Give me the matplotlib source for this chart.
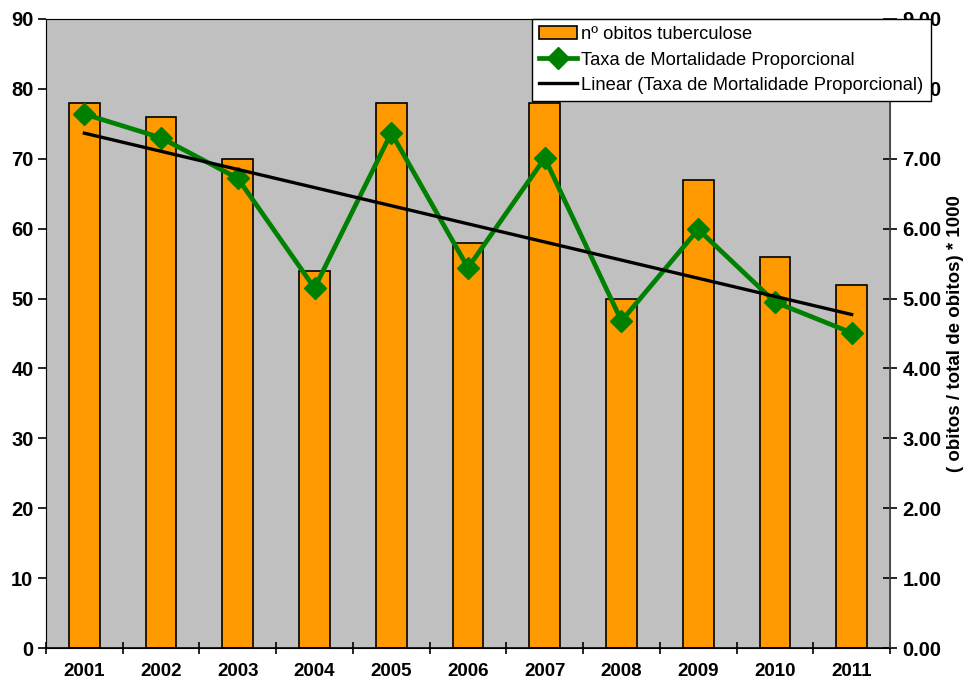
import numpy as np
import matplotlib.pyplot as plt

plt.rcParams['font.family'] = ['Liberation Sans', 'DejaVu Sans']

# Tuberculosis deaths per year and proportional mortality rate
anos = ['2001', '2002', '2003', '2004', '2005', '2006', '2007', '2008', '2009', '2010', '2011']
obitos = [78, 76, 70, 54, 78, 58, 78, 50, 67, 56, 52]
taxa = [7.64, 7.30, 6.72, 5.15, 7.37, 5.44, 7.01, 4.68, 5.99, 4.95, 4.51]

x = np.arange(1, len(anos) + 1)

fig = plt.figure(figsize=(9.66, 6.85), dpi=100)
ax = fig.add_axes([46 / 966, 1 - 648 / 685, (890 - 46) / 966, (648 - 19) / 685])
ax.set_facecolor('#C0C0C0')

barras = ax.bar(x, obitos, width=0.4, color='#FF9900', edgecolor='black', linewidth=1.2,
                label='nº obitos tuberculose', zorder=2)
ax.set_xlim(0.5, len(anos) + 0.5)
ax.set_ylim(0, 90)
ax.set_yticks(range(0, 91, 10))
ax.set_xticks(x)
ax.set_xticklabels(anos)
ax.set_xticks(np.arange(0.5, len(anos) + 1, 1), minor=True)
ax.tick_params(axis='x', which='major', length=0, pad=11, labelsize=13.5)
ax.tick_params(axis='x', which='minor', length=9, direction='inout', width=1.2)
ax.tick_params(axis='y', length=6, width=1.2, pad=3, labelsize=14.5)
for lbl in ax.get_xticklabels() + ax.get_yticklabels():
    lbl.set_fontweight('bold')

for s in ['left', 'right', 'top']:
    ax.spines[s].set_color('#808080')
ax.spines['bottom'].set_color('black')
ax.spines['bottom'].set_linewidth(1.2)

ax2 = ax.twinx()
ax2.set_ylim(0, 9)
ax2.set_yticks(np.arange(0, 9.01, 1))
ax2.set_yticklabels([f'{v:.2f}' for v in np.arange(0, 9.01, 1)])
ax2.tick_params(axis='y', length=10, direction='inout', width=1.2, pad=4, labelsize=14.5)
for lbl in ax2.get_yticklabels():
    lbl.set_fontweight('bold')
ax2.spines['right'].set_color('#404040')
ax2.spines['right'].set_linewidth(1.2)
ax2.set_ylabel('( obitos / total de obitos) * 1000', fontsize=13.5, fontweight='bold')
ax2.yaxis.set_label_coords((947 - 46) / (890 - 46), 0.5)

linha, = ax2.plot(x, taxa, color='#008000', linewidth=3.4, marker='D', markersize=11,
                  label='Taxa de Mortalidade Proporcional', zorder=3)

# linear trend of the mortality rate
coef = np.polyfit(x, taxa, 1)
tendencia, = ax2.plot(x, np.polyval(coef, x), color='black', linewidth=2.4,
                      label='Linear (Taxa de Mortalidade Proporcional)', zorder=3)

leg = ax2.legend([barras, linha, tendencia],
                 [barras.get_label(), linha.get_label(), tendencia.get_label()],
                 loc='upper right', bbox_to_anchor=(931 / 966, 1 - 19 / 685),
                 bbox_transform=fig.transFigure, fontsize=13.2, frameon=True,
                 fancybox=False, framealpha=1, edgecolor='black', borderpad=0.4,
                 handlelength=2.05, handletextpad=0.25, labelspacing=0.45,
                 borderaxespad=0)
leg.get_frame().set_linewidth(1.0)
leg.set_zorder(10)

fig.savefig('out.png', dpi=100)
